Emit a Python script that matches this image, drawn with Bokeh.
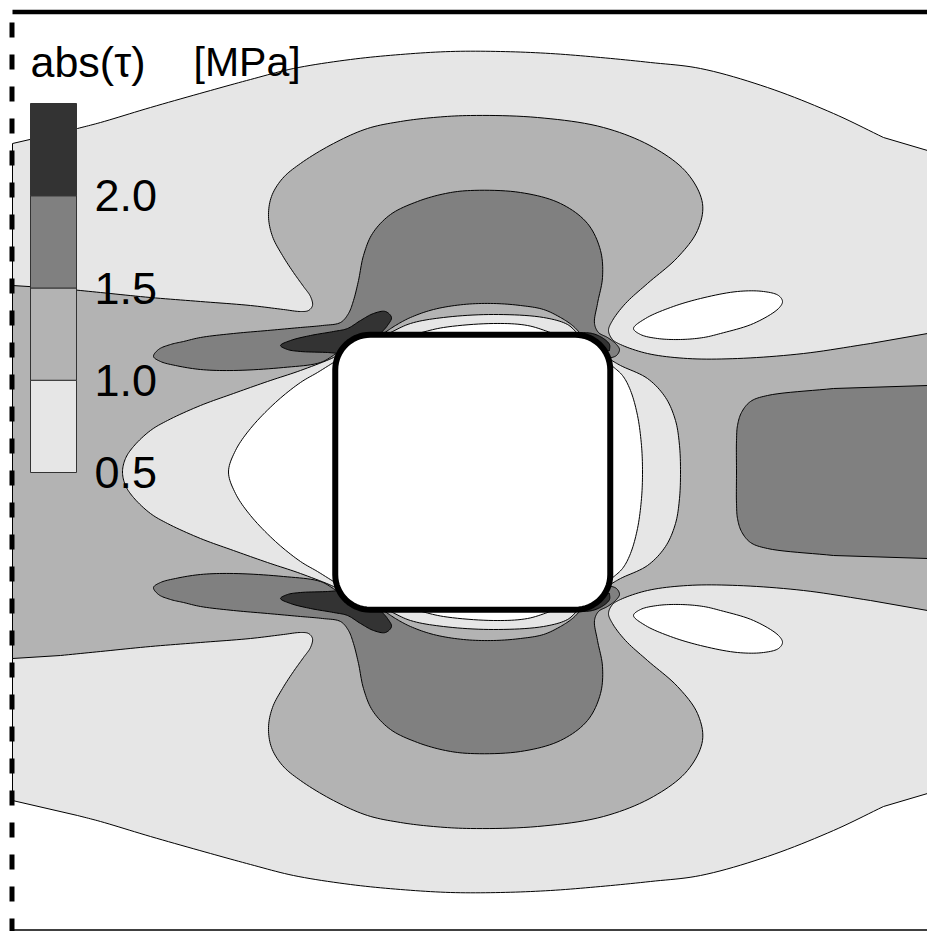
import numpy as np
from bokeh.plotting import figure
from bokeh.models import Range1d
from bokeh.embed import file_html
from bokeh.resources import INLINE
from bokeh.core.properties import value

W, H = 927, 931
YC = 471.5  # horizontal symmetry axis of the field (plot units = pixels, y downward)

# ---- colour levels (abs(tau) in MPa) ----
levels = [0.5, 1.0, 1.5, 2.0, 2.5]
level_colors = ["#e6e6e6", "#b3b3b3", "#808080", "#333333"]
level_labels = ["0.5", "1.0", "1.5", "2.0"]
title_parts = ["abs(\u03c4)", "[MPa]"]

# ---- contour outlines (upper half; lower half is the mirror image) ----
# 0.5 MPa outer contour, left -> right
c05_outer = [(12, 143), (77, 128), (100, 122), (150, 107), (210, 90), (250, 79), (293, 68),
             (350, 59), (400, 54), (450, 51), (500, 51), (550, 53), (600, 57), (650, 62),
             (700, 68), (767, 87), (833, 113), (883, 137), (927, 150)]
# 1.0 MPa contour: left band, upper lobe, right band
c10_outer = [(12, 285), (60, 288), (100, 292), (150, 297), (200, 301), (250, 305), (283, 309),
             (300, 311), (308, 310), (312, 305), (310, 296), (303, 286), (293, 272), (282, 255),
             (272, 236), (268, 216), (271, 196), (282, 178), (300, 163), (333, 143), (367, 128),
             (400, 121), (433, 117), (470, 115), (537, 117), (603, 127), (653, 147), (687, 173),
             (702, 203), (697, 230), (677, 257), (647, 283), (625, 303), (612, 320), (608, 330),
             (612, 339), (620, 344), (647, 353), (687, 358), (737, 358), (803, 353), (870, 343),
             (927, 333)]
# 1.5 MPa contour: left lobe + upper lobe + corner blob (closed through the hole)
c15_upper = [(345, 360), (336, 353), (320, 362), (283, 367), (233, 370), (200, 369), (175, 365),
             (160, 361), (153, 356), (158, 349), (170, 344), (183, 341), (200, 337), (233, 333),
             (267, 330), (300, 327), (322, 325), (340, 322), (348, 313), (353, 300), (358, 280),
             (363, 255), (372, 233), (390, 214), (417, 201), (445, 193), (470, 190), (520, 192),
             (560, 203), (587, 223), (600, 250), (602, 277), (597, 303), (594, 323), (598, 332),
             (607, 337), (615, 343), (619, 349), (616, 355), (608, 358), (595, 360)]
# 1.5 MPa contour, right band plateau, right edge -> symmetry axis
c15_right = [(927, 385), (833, 388), (767, 395), (750, 401), (741, 412), (737, 425), (736, 440),
             (736, YC)]
# 2.0 MPa contours near the corners
c20_left = [(280, 345), (290, 340), (310, 335), (333, 331), (347, 328), (360, 320), (373, 313),
            (385, 311), (391, 317), (387, 325), (380, 333), (375, 345), (350, 358), (338, 353),
            (327, 352), (300, 351), (287, 349)]
c20_right = [(577, 332), (592, 333), (603, 338), (609, 344), (609, 350), (600, 352), (585, 345)]
# thin bands above the hole (1.5, 1.0 and 0.5 contours)
arc15 = [(383, 333), (395, 325), (410, 317), (433, 309), (463, 304), (493, 303), (520, 305),
         (543, 309), (560, 317), (572, 325), (580, 333), (570, 350), (390, 350)]
arc10 = [(388, 333), (410, 323), (443, 317), (493, 314), (543, 317), (567, 324), (577, 333),
         (570, 350), (390, 350)]
arc05 = [(417, 333), (443, 327), (493, 323), (527, 325), (553, 333), (553, 345), (417, 345)]
# low-stress bulges left / right of the hole, hole corner -> symmetry axis
c10_left_bulge = [(345, 362), (336, 355), (333, 357), (300, 370), (267, 381), (233, 393),
                  (200, 405), (167, 420), (150, 430), (133, 446), (125, 458), (122, YC)]
c05_left_bulge = [(345, 365), (333, 362), (317, 372), (300, 382), (275, 402), (250, 428),
                  (235, 450), (228, YC)]
c10_right_bulge = [(598, 362), (608, 358), (620, 365), (647, 378), (665, 397), (675, 420),
                   (679, 445), (680, YC)]
c05_right_bulge = [(598, 366), (610, 364), (622, 375), (630, 390), (637, 415), (641, 445),
                   (642, YC)]
# closed 0.5 MPa islands, upper right
c05_island = [(633, 328), (645, 318), (670, 307), (700, 298), (737, 291), (763, 291), (778, 295),
              (782, 301), (778, 308), (753, 323), (720, 333), (703, 337), (680, 339), (657, 338),
              (640, 334)]

# ---- hole (rounded square) ----
hole_center = (472.25, 471.75)
hole_half = 137.5
hole_radius = 35.0


def mirror(pts):
    return [(x, 2 * YC - y) for x, y in pts]


def span(pts):
    """upper-half outline + mirrored lower half -> closed polygon across the axis"""
    return pts + mirror(pts)[::-1]


def inside_hole(x, y, margin=4.0):
    cx, cy = hole_center
    h = hole_half - margin
    r = max(hole_radius - margin, 1.0)
    qx, qy = abs(x - cx) - (h - r), abs(y - cy) - (h - r)
    d = np.hypot(max(qx, 0), max(qy, 0)) + min(max(qx, qy), 0) - r
    return d < 0


def is_hard(pt):
    x, y = pt
    return x <= 12.5 or x >= W - 0.5 or inside_hole(x, y)


def smooth_closed(pts, n=10):
    """centripetal Catmull-Rom through the read points; segments touching
    frame-edge or in-hole helper points stay straight"""
    q = []
    for pt in pts:
        if not q or np.hypot(pt[0] - q[-1][0], pt[1] - q[-1][1]) > 1e-6:
            q.append(pt)
    if np.hypot(q[0][0] - q[-1][0], q[0][1] - q[-1][1]) < 1e-6:
        q.pop()
    m = len(q)
    P = np.array(q, dtype=float)
    out = []
    for i in range(m):
        p1, p2 = P[i], P[(i + 1) % m]
        if is_hard(q[i]) or is_hard(q[(i + 1) % m]):
            out.append(tuple(p1))
            continue
        p0, p3 = P[(i - 1) % m], P[(i + 2) % m]
        if is_hard(q[(i - 1) % m]):
            p0 = 2 * p1 - p2
        if is_hard(q[(i + 2) % m]):
            p3 = 2 * p2 - p1
        t0 = 0.0
        t1 = t0 + max(np.linalg.norm(p1 - p0), 1e-6) ** 0.5
        t2 = t1 + max(np.linalg.norm(p2 - p1), 1e-6) ** 0.5
        t3 = t2 + max(np.linalg.norm(p3 - p2), 1e-6) ** 0.5
        for t in np.linspace(t1, t2, n, endpoint=False):
            a1 = (t1 - t) / (t1 - t0) * p0 + (t - t0) / (t1 - t0) * p1
            a2 = (t2 - t) / (t2 - t1) * p1 + (t - t1) / (t2 - t1) * p2
            a3 = (t3 - t) / (t3 - t2) * p2 + (t - t2) / (t3 - t2) * p3
            b1 = (t2 - t) / (t2 - t0) * a1 + (t - t0) / (t2 - t0) * a2
            b2 = (t3 - t) / (t3 - t1) * a2 + (t - t1) / (t3 - t1) * a3
            c = (t2 - t) / (t2 - t1) * b1 + (t - t1) / (t2 - t1) * b2
            out.append((c[0], c[1]))
    return out


def rounded_square(c, h, r, n=16):
    cx, cy = c
    pts = []
    corners = [(cx + h - r, cy - h + r, -np.pi / 2, 0), (cx + h - r, cy + h - r, 0, np.pi / 2),
               (cx - h + r, cy + h - r, np.pi / 2, np.pi), (cx - h + r, cy - h + r, np.pi, 1.5 * np.pi)]
    for ox, oy, a0, a1 in corners:
        for a in np.linspace(a0, a1, n):
            pts.append((ox + r * np.cos(a), oy + r * np.sin(a)))
    return pts


# painter's order: outer/low first, then higher, then the low pockets next to the hole
polys = []  # (points, colour)
polys.append((span(c05_outer), level_colors[0]))
polys.append((c05_island, "white"))
polys.append((mirror(c05_island), "white"))
polys.append((span(c10_outer), level_colors[1]))
polys.append((c15_upper, level_colors[2]))
polys.append((mirror(c15_upper), level_colors[2]))
polys.append((span(c15_right), level_colors[2]))
for blob in (c20_left, c20_right):
    polys.append((blob, level_colors[3]))
    polys.append((mirror(blob), level_colors[3]))
for arc, col in ((arc15, level_colors[1]), (arc10, level_colors[0]), (arc05, "white")):
    polys.append((arc, col))
    polys.append((mirror(arc), col))
polys.append((span(c10_left_bulge), level_colors[0]))
polys.append((span(c05_left_bulge), "white"))
polys.append((span(c10_right_bulge), level_colors[0]))
polys.append((span(c05_right_bulge), "white"))

p = figure(width=W, height=H, x_range=Range1d(0, W), y_range=Range1d(H, 0),
           output_backend="svg", toolbar_location=None, min_border=0,
           x_axis_location=None, y_axis_location=None)
p.grid.visible = False
p.outline_line_color = None
p.background_fill_color = "white"
p.border_fill_color = "white"

sm = [smooth_closed(pts) for pts, _ in polys]
xs = [[q[0] for q in s] for s in sm]
ys = [[q[1] for q in s] for s in sm]
cols = [c for _, c in polys]
p.patches(xs=xs, ys=ys, fill_color=cols, line_color="black", line_width=1, line_join="round")

hole = rounded_square(hole_center, hole_half, hole_radius)
p.patch(x=[q[0] for q in hole], y=[q[1] for q in hole], fill_color="white",
        line_color="black", line_width=6, line_join="round")

# ---- colour bar ----
cb_x0, cb_x1 = 30, 76
cb_y_lo, cb_y_hi = 472, 103
def cb_y(v):
    return cb_y_lo + (v - levels[0]) / (levels[-1] - levels[0]) * (cb_y_hi - cb_y_lo)

p.quad(left=[cb_x0] * 4, right=[cb_x1] * 4,
       bottom=[cb_y(v) for v in levels[:-1]], top=[cb_y(v) for v in levels[1:]],
       fill_color=level_colors, line_color="#333333", line_width=1)

p.text(x=[94] * 4, y=[cb_y(v) for v in levels[:-1]], text=level_labels,
       text_font=value("Liberation Sans"), text_font_size="45px",
       text_baseline="middle", text_align="left", text_color="black")
p.text(x=[30, 193], y=[61, 61], text=title_parts, text_font=value("Liberation Sans"),
       text_font_size=["43px", "41px"], text_baseline="middle", text_align="left",
       text_color="black")

# ---- frame ----
p.line(x=[12, W], y=[11.5, 11.5], line_color="black", line_width=4.5)
p.line(x=[12, W], y=[929.5, 929.5], line_color="black", line_width=1.5)
p.line(x=[11.5, 11.5], y=[22, H], line_color="black", line_width=5, line_dash="15 17")

open("out.html", "w").write(file_html(p, INLINE))
